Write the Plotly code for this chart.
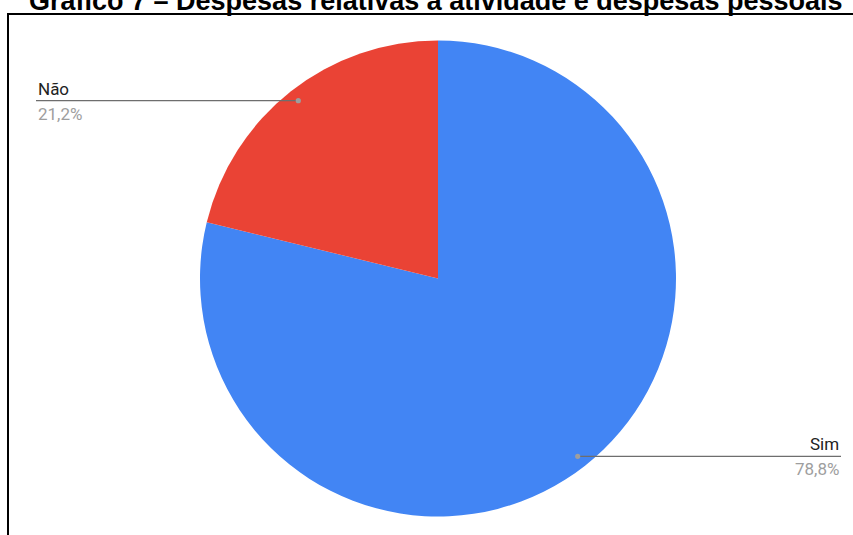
import math
import plotly.graph_objects as go

# Data
labels = ["Sim", "Não"]
values = [78.8, 21.2]
colors = ["#4285F4", "#EA4335"]
title_text = "Gráfico 7 – Despesas relativas à atividade e despesas pessoais"

W, H = 853, 535

# Pie placement in pixels (from the top-left corner)
cx, cy, R = 438, 278.5, 238
dom_x = [(cx - R) / W, (cx + R) / W]
dom_y = [(H - cy - R) / H, (H - cy + R) / H]


def px(x):
    return x / W


def py(y):
    return 1 - y / H


fig = go.Figure(
    go.Pie(
        labels=labels,
        values=values,
        marker=dict(colors=colors, line=dict(width=0)),
        sort=False,
        direction="clockwise",
        rotation=0,
        textinfo="none",
        hoverinfo="label+percent",
        domain=dict(x=dom_x, y=dom_y),
        showlegend=False,
    )
)

shapes = []
annotations = []

# Frame around the chart area
shapes.append(dict(type="rect", xref="paper", yref="paper",
                   x0=px(8), x1=px(W + 10), y0=py(H + 10), y1=py(14),
                   line=dict(color="#000000", width=2), fillcolor="rgba(0,0,0,0)",
                   layer="above"))

# Leader lines and labels, placed from the slice mid-angles
total = sum(values)
label_x = {"Não": (36, "left"), "Sim": (841, "right")}
start = 0.0
for lab, val in zip(labels, values):
    frac = val / total
    mid = (start + frac / 2) * 2 * math.pi  # clockwise from 12 o'clock
    start += frac
    dx = math.sin(mid) * R * 0.95
    dy = math.cos(mid) * R * 0.95
    dot_x, dot_y = cx + dx, cy - dy
    end_x, anchor = label_x[lab]
    shapes.append(dict(type="line", xref="paper", yref="paper",
                       x0=px(dot_x), x1=px(end_x), y0=py(dot_y), y1=py(dot_y),
                       line=dict(color="#6e6e6e", width=1.3), layer="above"))
    rr = 2.6
    shapes.append(dict(type="circle", xref="paper", yref="paper",
                       x0=px(dot_x - rr), x1=px(dot_x + rr),
                       y0=py(dot_y + rr), y1=py(dot_y - rr),
                       line=dict(width=0), fillcolor="#9e9e9e", layer="above"))
    pct = f"{val / total * 100:.1f}%".replace(".", ",")
    annotations.append(dict(text=lab, xref="paper", yref="paper",
                            x=px(end_x), y=py(dot_y - 12), xanchor=anchor,
                            yanchor="middle", showarrow=False,
                            font=dict(family="Roboto", size=17, color="#222222")))
    annotations.append(dict(text=pct, xref="paper", yref="paper",
                            x=px(end_x), y=py(dot_y + 13), xanchor=anchor,
                            yanchor="middle", showarrow=False,
                            font=dict(family="Roboto", size=17, color="#9e9e9e")))

# Title, partly above the top edge
annotations.append(dict(text=title_text, xref="paper", yref="paper",
                        x=px(435), y=py(1), xanchor="center", yanchor="middle",
                        showarrow=False,
                        font=dict(family="Liberation Sans, Arial", size=27,
                                  color="#000000", weight="bold")))

fig.update_layout(
    width=W, height=H,
    margin=dict(l=0, r=0, t=0, b=0),
    paper_bgcolor="#ffffff",
    plot_bgcolor="#ffffff",
    shapes=shapes,
    annotations=annotations,
)

fig.write_html("out.html")
